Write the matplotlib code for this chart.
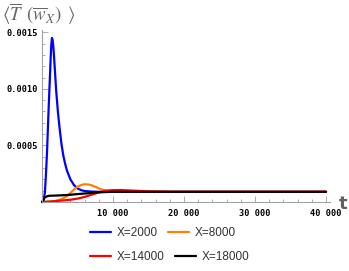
import numpy as np
import matplotlib
matplotlib.use("Agg")
import matplotlib.pyplot as plt
from matplotlib.ticker import MultipleLocator, FuncFormatter

plt.rcParams["mathtext.fontset"] = "stix"

# values
t_blue = [0, 200, 400, 500, 600, 700, 800, 900, 1000, 1100, 1200, 1300, 1400,
          1500, 1600, 1700, 1800, 1900, 2000, 2250, 2500, 2750, 3000, 3250,
          3500, 4000, 4500, 5000, 5500, 6000, 7000, 8000, 10000, 20000, 40000]
v_blue = [0.0, 0.00001, 0.00008, 0.00018, 0.00030, 0.00043, 0.00060, 0.00077,
          0.00093, 0.00108, 0.00124, 0.00138, 0.00145, 0.00143, 0.00137,
          0.00128, 0.00118, 0.00108, 0.00098, 0.00079, 0.00064, 0.00051,
          0.00041, 0.00034, 0.00028, 0.00020, 0.00015, 0.00012, 0.000105,
          0.000097, 0.000092, 0.00009, 0.00009, 0.00009, 0.00009]

t_orange = [0, 1000, 2000, 2500, 3000, 3500, 4000, 4500, 5000, 5500, 6000,
            6500, 7000, 7500, 8000, 8500, 9000, 10000, 12000, 15000, 40000]
v_orange = [0.0, 0.000002, 0.00001, 0.00002, 0.000033, 0.00005, 0.00008,
            0.00011, 0.000135, 0.00015, 0.000157, 0.000155, 0.000148,
            0.000135, 0.00012, 0.00011, 0.0001, 0.000095, 0.000092, 0.00009,
            0.00009]

t_red = [0, 2000, 4000, 5000, 6000, 7000, 8000, 9000, 10000, 11000, 12000,
         13000, 15000, 18000, 40000]
v_red = [0.0, 0.000008, 0.00002, 0.00003, 0.000045, 0.000065, 0.000085,
         0.0001, 0.000105, 0.000106, 0.000103, 0.0001, 0.000094, 0.00009,
         0.00009]

t_black = [0, 200, 400, 700, 1000, 2000, 3000, 4000, 5000, 6000, 7000, 8000,
           9000, 10000, 40000]
v_black = [0.0, 0.00002, 0.00004, 0.00005, 0.000055, 0.000057, 0.00006,
           0.000064, 0.00007, 0.000075, 0.00008, 0.000085, 0.000088, 0.00009,
           0.00009]

labels = ["X=2000", "X=8000", "X=14000", "X=18000"]
colors = ["#0000ff", "#ff8000", "#ff0000", "#000000"]

fig = plt.figure(figsize=(3.49, 2.71), dpi=100)
ax = fig.add_axes([42 / 349, 1 - 202 / 271, 288 / 349, 172 / 271])

series = [(t_blue, v_blue), (t_orange, v_orange), (t_red, v_red),
          (t_black, v_black)]
lines = []
for (t, v), c, lab in zip(series, colors, labels):
    (ln,) = ax.plot(t, v, color=c, lw=1.6, label=lab, clip_on=False,
                    solid_capstyle="round")
    lines.append(ln)

ax.set_xlim(0, 40560)
ax.set_ylim(0, 0.00152)

for s in ["top", "right"]:
    ax.spines[s].set_visible(False)
for s in ["left", "bottom"]:
    ax.spines[s].set_color("#a0a0a0")
    ax.spines[s].set_linewidth(0.8)

ax.xaxis.set_major_locator(MultipleLocator(10000))
ax.xaxis.set_minor_locator(MultipleLocator(2000))
ax.yaxis.set_major_locator(MultipleLocator(0.0005))
ax.yaxis.set_minor_locator(MultipleLocator(0.0001))


def xfmt(v, pos):
    return "" if v == 0 else f"{int(v):,}".replace(",", " ")


def yfmt(v, pos):
    return "" if v == 0 else f"{v:.4f}"


ax.xaxis.set_major_formatter(FuncFormatter(xfmt))
ax.yaxis.set_major_formatter(FuncFormatter(yfmt))
ax.tick_params(which="both", direction="in", color="#a0a0a0", width=0.6)
ax.tick_params(which="major", length=4)
ax.tick_params(which="minor", length=2.2)
ax.tick_params(axis="x", pad=5)
ax.tick_params(axis="y", pad=3)
for lab in ax.get_xticklabels() + ax.get_yticklabels():
    lab.set_fontfamily("DejaVu Sans Mono")
    lab.set_fontweight("bold")
    lab.set_fontsize(6.2)

fig.text(2 / 349, 1 - 14 / 271,
         r"$\langle\overline{T}\ \,(\overline{w}_X)\ \,\rangle$",
         color="#666666", fontsize=13.5, ha="left", va="center")
fig.text(343 / 349, 1 - 204 / 271, "t", color="#606060", fontsize=13,
         fontweight="bold", ha="center", va="center")

kw = dict(frameon=False, ncol=2, handlelength=1.75, handletextpad=0.5,
          columnspacing=0.9, borderpad=0, borderaxespad=0,
          prop={"family": "Liberation Sans", "size": 8.5},
          labelcolor="#333333")
leg1 = fig.legend(lines[:2], labels[:2], loc="center left",
                  bbox_to_anchor=(90 / 349, 1 - 233 / 271), **kw)
leg2 = fig.legend(lines[2:], labels[2:], loc="center left",
                  bbox_to_anchor=(90 / 349, 1 - 257.5 / 271), **kw)

fig.savefig("out.png", dpi=100)
